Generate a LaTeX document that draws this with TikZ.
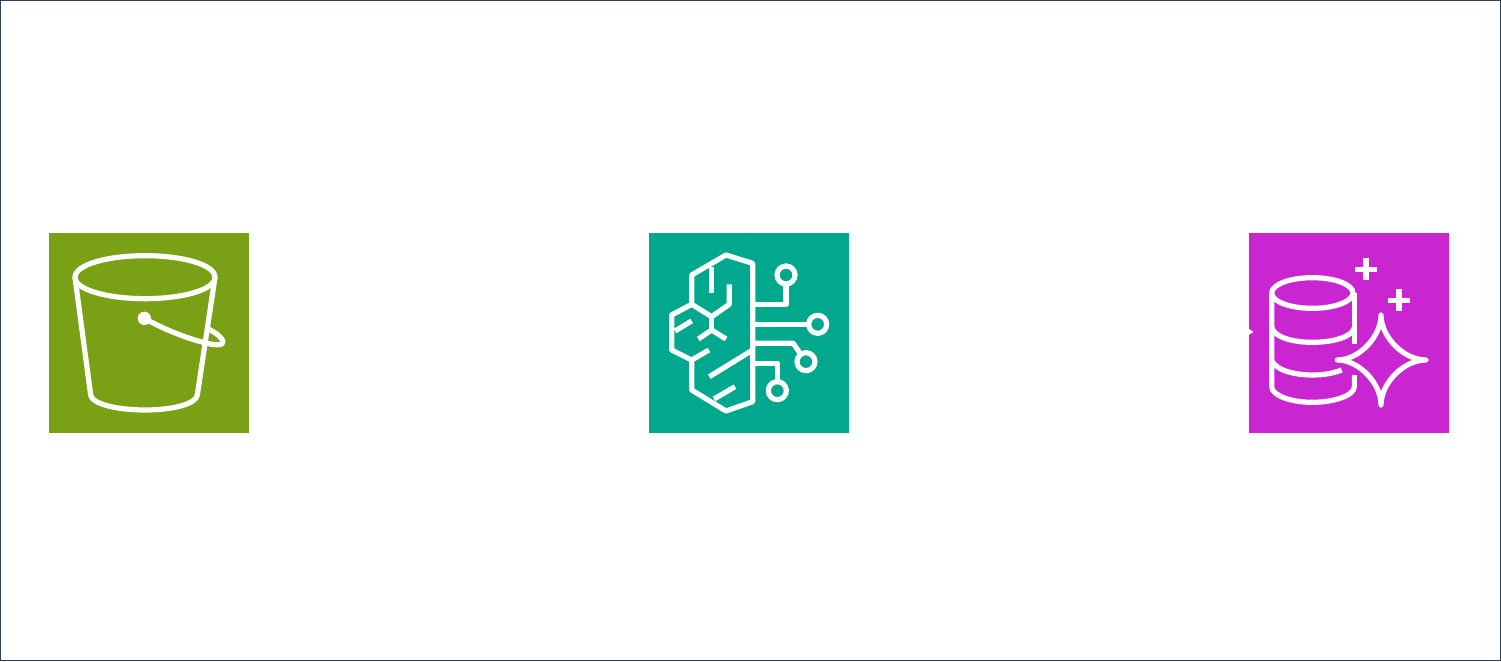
\documentclass[tikz,border=0pt]{standalone}
\definecolor{bucketgreen}{HTML}{7AA116}
\definecolor{brainteal}{HTML}{01A88D}
\definecolor{dbmagenta}{HTML}{C925D1}
\definecolor{frameblue}{HTML}{2C4058}
\tikzset{
  tile/.style={minimum size=200pt,inner sep=0pt,outer sep=0pt,anchor=north west},
  glyph/.style={draw=white,line width=5.2pt,line join=round,line cap=butt},
  zoomed/.style={x=0.33333pt,y=-0.33333pt},
}
\begin{document}
\begin{tikzpicture}[x=1pt,y=-1pt]
\useasboundingbox (0,0) rectangle (1501,661);
\fill[white] (0,0) rectangle (1501,661);
\draw[frameblue,line width=1pt] (0.5,0.5) rectangle (1500.5,660.5);
\node[tile,fill=bucketgreen] (bucket) at (49,233) {};
\node[tile,fill=brainteal] (brain) at (649,233) {};
\node[tile,fill=dbmagenta] (db) at (1249,233) {};
% tip of the white arrow that enters the database tile
\fill[white] (db.west) ++(0,-4) -- ++(4.5,3) -- ++(-4.5,2.5) -- cycle;
% bucket
\begin{scope}[shift={(40pt,-225pt)},zoomed]
\draw[glyph] (105,157) .. controls (105,118) and (205,92) .. (315,92) .. controls (425,92) and (525,118) .. (525,157) .. controls (525,195) and (425,221) .. (315,221) .. controls (205,221) and (105,195) .. (105,157) -- cycle;
\draw[glyph] (105,157) -- (152,510) .. controls (156,538) and (235,555) .. (315,555) .. controls (395,555) and (468,538) .. (472,510) -- (525,157);
\fill[white] (313,280) circle[radius=20];
\draw[glyph] (313,280) .. controls (370,312) and (440,340) .. (490,352) .. controls (525,362) and (552,362) .. (549,349) .. controls (546,338) and (530,325) .. (505,312);
\end{scope}
% brain
\begin{scope}[shift={(640pt,-225pt)},zoomed]
\draw[glyph] (155,238) -- (155,150) -- (258,90) -- (338,115) -- (338,530) -- (258,558) -- (155,495) -- (155,405) -- (95,375) -- (95,270) -- (155,238) -- (215,275) -- (268,238) -- (268,178);
\draw[glyph] (215,125) -- (215,205);
\draw[glyph] (215,275) -- (215,315);
\draw[glyph] (175,342) -- (215,315) -- (258,342);
\draw[glyph] (105,318) -- (155,288);
\draw[glyph] (155,405) -- (207,375);
\draw[glyph] (208,455) -- (338,375);
\draw[glyph] (222,522) -- (285,485);
\draw[glyph] (338,238) -- (438,238) -- (438,177);
\draw[glyph] (438,150) circle[radius=27];
\draw[glyph] (338,298) -- (506,298);
\draw[glyph] (533,298) circle[radius=27];
\draw[glyph] (338,355) -- (460,355) -- (482,388);
\draw[glyph] (498,410) circle[radius=27];
\draw[glyph] (338,415) -- (412,415) -- (412,470);
\draw[glyph] (412,497) circle[radius=27];
\end{scope}
% database
\begin{scope}[shift={(1235pt,-225pt)},zoomed]
\draw[glyph] (232,204) ellipse[x radius=122,y radius=46];
\draw[glyph] (110,204) -- (110,485) .. controls (110,512) and (170,532) .. (232,532) .. controls (296,532) and (358,512) .. (358,485) -- (358,450);
\draw[glyph] (358,204) -- (358,358);
\draw[glyph] (110,306) .. controls (115,335) and (170,352) .. (232,352) .. controls (296,352) and (352,335) .. (358,308);
\draw[glyph] (110,405) .. controls (118,432) and (170,450) .. (232,450) .. controls (265,450) and (295,445) .. (320,435);
\draw[glyph] (360,133) -- (426,133);
\draw[glyph] (393,100) -- (393,166);
\draw[glyph] (459,226) -- (525,226);
\draw[glyph] (492,193) -- (492,259);
\draw[glyph,line cap=round] (438,270) .. controls (438,335) and (505,405) .. (573,405) .. controls (505,405) and (438,475) .. (438,540) .. controls (438,475) and (372,405) .. (307,405) .. controls (372,405) and (438,335) .. (438,270) -- cycle;
\end{scope}
\end{tikzpicture}
\end{document}
